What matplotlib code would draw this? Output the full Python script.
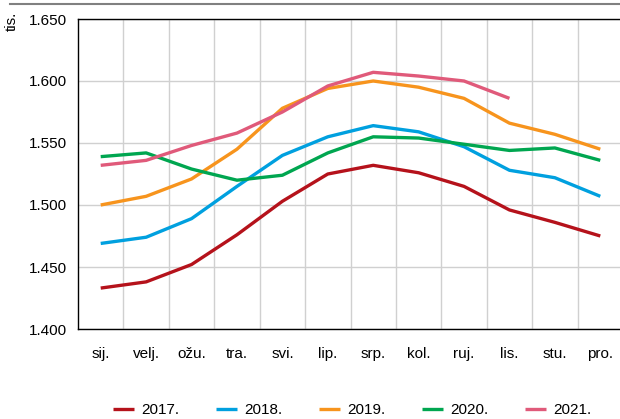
import matplotlib
matplotlib.use('Agg')
import matplotlib.pyplot as plt
from matplotlib.lines import Line2D
import numpy as np

# data (thousands)
months = ['sij.', 'velj.', 'ožu.', 'tra.', 'svi.', 'lip.', 'srp.', 'kol.', 'ruj.', 'lis.', 'stu.', 'pro.']
y2017 = [1.433, 1.438, 1.452, 1.476, 1.503, 1.525, 1.532, 1.526, 1.515, 1.496, 1.486, 1.475]
y2018 = [1.469, 1.474, 1.489, 1.515, 1.540, 1.555, 1.564, 1.559, 1.547, 1.528, 1.522, 1.507]
y2019 = [1.500, 1.507, 1.521, 1.545, 1.578, 1.594, 1.600, 1.595, 1.586, 1.566, 1.557, 1.545]
y2020 = [1.539, 1.542, 1.529, 1.520, 1.524, 1.542, 1.555, 1.554, 1.549, 1.544, 1.546, 1.536]
y2021 = [1.532, 1.536, 1.548, 1.558, 1.575, 1.596, 1.607, 1.604, 1.600, 1.586]
years = ['2017.', '2018.', '2019.', '2020.', '2021.']
colors = ['#b5121b', '#00a0df', '#f7941d', '#00a650', '#e05a7a']

plt.rcParams['font.family'] = ['Liberation Sans', 'DejaVu Sans']
fs = 11

W, H = 620, 419
fig = plt.figure(figsize=(W / 100, H / 100), dpi=100)
ax = fig.add_axes([78 / W, (H - 329) / H, (623 - 78) / W, (329 - 19) / H])

x = np.arange(len(months)) + 0.5
series = [y2017, y2018, y2019, y2020, y2021]
for vals, c, lab in zip(series, colors, years):
    ax.plot(x[:len(vals)], vals, color=c, lw=2.4, label=lab, solid_capstyle='butt')

ax.set_xlim(0, 12)
ax.set_ylim(1.4, 1.65)
ax.set_xticks(x)
ax.set_xticklabels(months, fontsize=fs)
ax.set_xticks(np.arange(1, 12), minor=True)
ax.set_yticks([1.4, 1.45, 1.5, 1.55, 1.6, 1.65])
ax.set_yticklabels(['1.400', '1.450', '1.500', '1.550', '1.600', '1.650'], fontsize=fs)
ax.tick_params(which='both', length=0)
ax.tick_params(axis='x', pad=13)
ax.tick_params(axis='y', pad=8)
ax.grid(True, which='minor', axis='x', color='#d0d0d0', lw=1)
ax.grid(True, which='major', axis='y', color='#d0d0d0', lw=1)
ax.set_axisbelow(True)
for s in ['left', 'bottom', 'top']:
    ax.spines[s].set_color('black')
    ax.spines[s].set_linewidth(1)
ax.spines['right'].set_visible(False)

fig.text(12 / W, 1 - 21 / H, 'tis.', rotation=90, ha='center', va='center', fontsize=fs)

# top decorative rule
fig.add_artist(Line2D([10 / W, 1], [1 - 4 / H, 1 - 4 / H], color='#808080', lw=1.5))

fig.legend(loc='center', bbox_to_anchor=(0.568, 1 - 410 / H), ncol=5, frameon=False,
           fontsize=fs, handlelength=1.4, columnspacing=2.4, handletextpad=0.45)

fig.savefig('out.png', dpi=100)
